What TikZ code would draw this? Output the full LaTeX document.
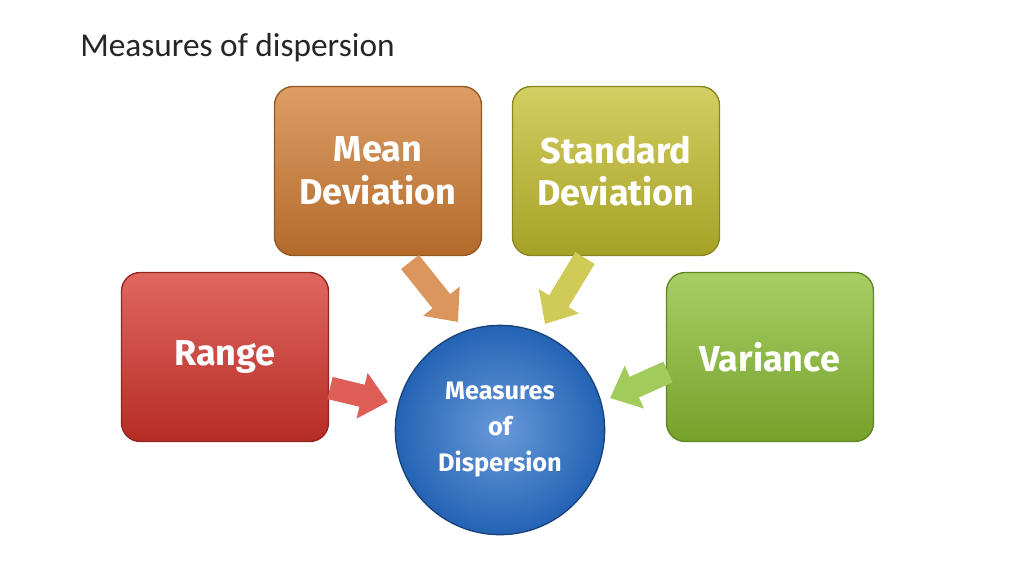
\documentclass[tikz,border=0pt]{standalone}
\usepackage{fontspec}
\setmainfont{Carlito}
\newfontfamily\boxfont{Fira Sans}
\usetikzlibrary{arrows.meta}
\definecolor{rangered}{RGB}{214,52,44}
\definecolor{meanorange}{RGB}{210,125,50}
\definecolor{stdyellow}{RGB}{196,190,45}
\definecolor{vargreen}{RGB}{138,190,50}
\definecolor{dispblue}{RGB}{40,110,200}
\tikzset{
  measurebox/.style={rounded corners=14pt, draw=#1!70!black, line width=1pt,
    top color=#1!75!white, bottom color=#1!85!black, minimum width=155.25pt, minimum height=126.75pt,
    text=white, font=\boxfont\bfseries\fontsize{27}{32}\selectfont, align=center},
  fatarrow/.style={line width=17pt, draw=#1!80!white, -{Triangle[length=20pt,width=34pt]}, shorten >=0pt},
}
\begin{document}
\begin{tikzpicture}[x=0.75pt,y=0.75pt,yscale=-1,xscale=1]
\useasboundingbox (0,0) rectangle (1024,576);
\fill[white] (0,0) rectangle (1024,576);

% title
\node (title) [anchor=west, inner sep=0pt, text=black!85, font=\fontsize{25}{28}\selectfont] at (80,48) {Measures of dispersion};

% boxes
\node (range) [measurebox=rangered] at (225,357) {Range};
\node (mean) [measurebox=meanorange] at (378,171) {Mean\\Deviation};
\node (std) [measurebox=stdyellow] at (616,171) {Standard\\Deviation};
\node (var) [measurebox=vargreen] at (770,357) {Variance};

% centre
\node (disp) [circle, minimum size=157pt, draw=dispblue!60!black, line width=1pt,
  inner color=dispblue!70!white, outer color=dispblue!90!black, text=white,
  font=\boxfont\bfseries\fontsize{19}{27}\selectfont, align=center] at (500,430) {Measures\\of\\Dispersion};

% arrows
\coordinate (rs) at (330,388);
\coordinate (re) at (388,402);
\coordinate (ms) at (410,262);
\coordinate (me) at (458,322);
\coordinate (ss) at (585,258);
\coordinate (se) at (545,324);
\coordinate (vs) at (668,372);
\coordinate (ve) at (610,398);
\draw[fatarrow=rangered] (rs) -- (re);
\draw[fatarrow=meanorange] (ms) -- (me);
\draw[fatarrow=stdyellow] (ss) -- (se);
\draw[fatarrow=vargreen] (vs) -- (ve);

\end{tikzpicture}
\end{document}
